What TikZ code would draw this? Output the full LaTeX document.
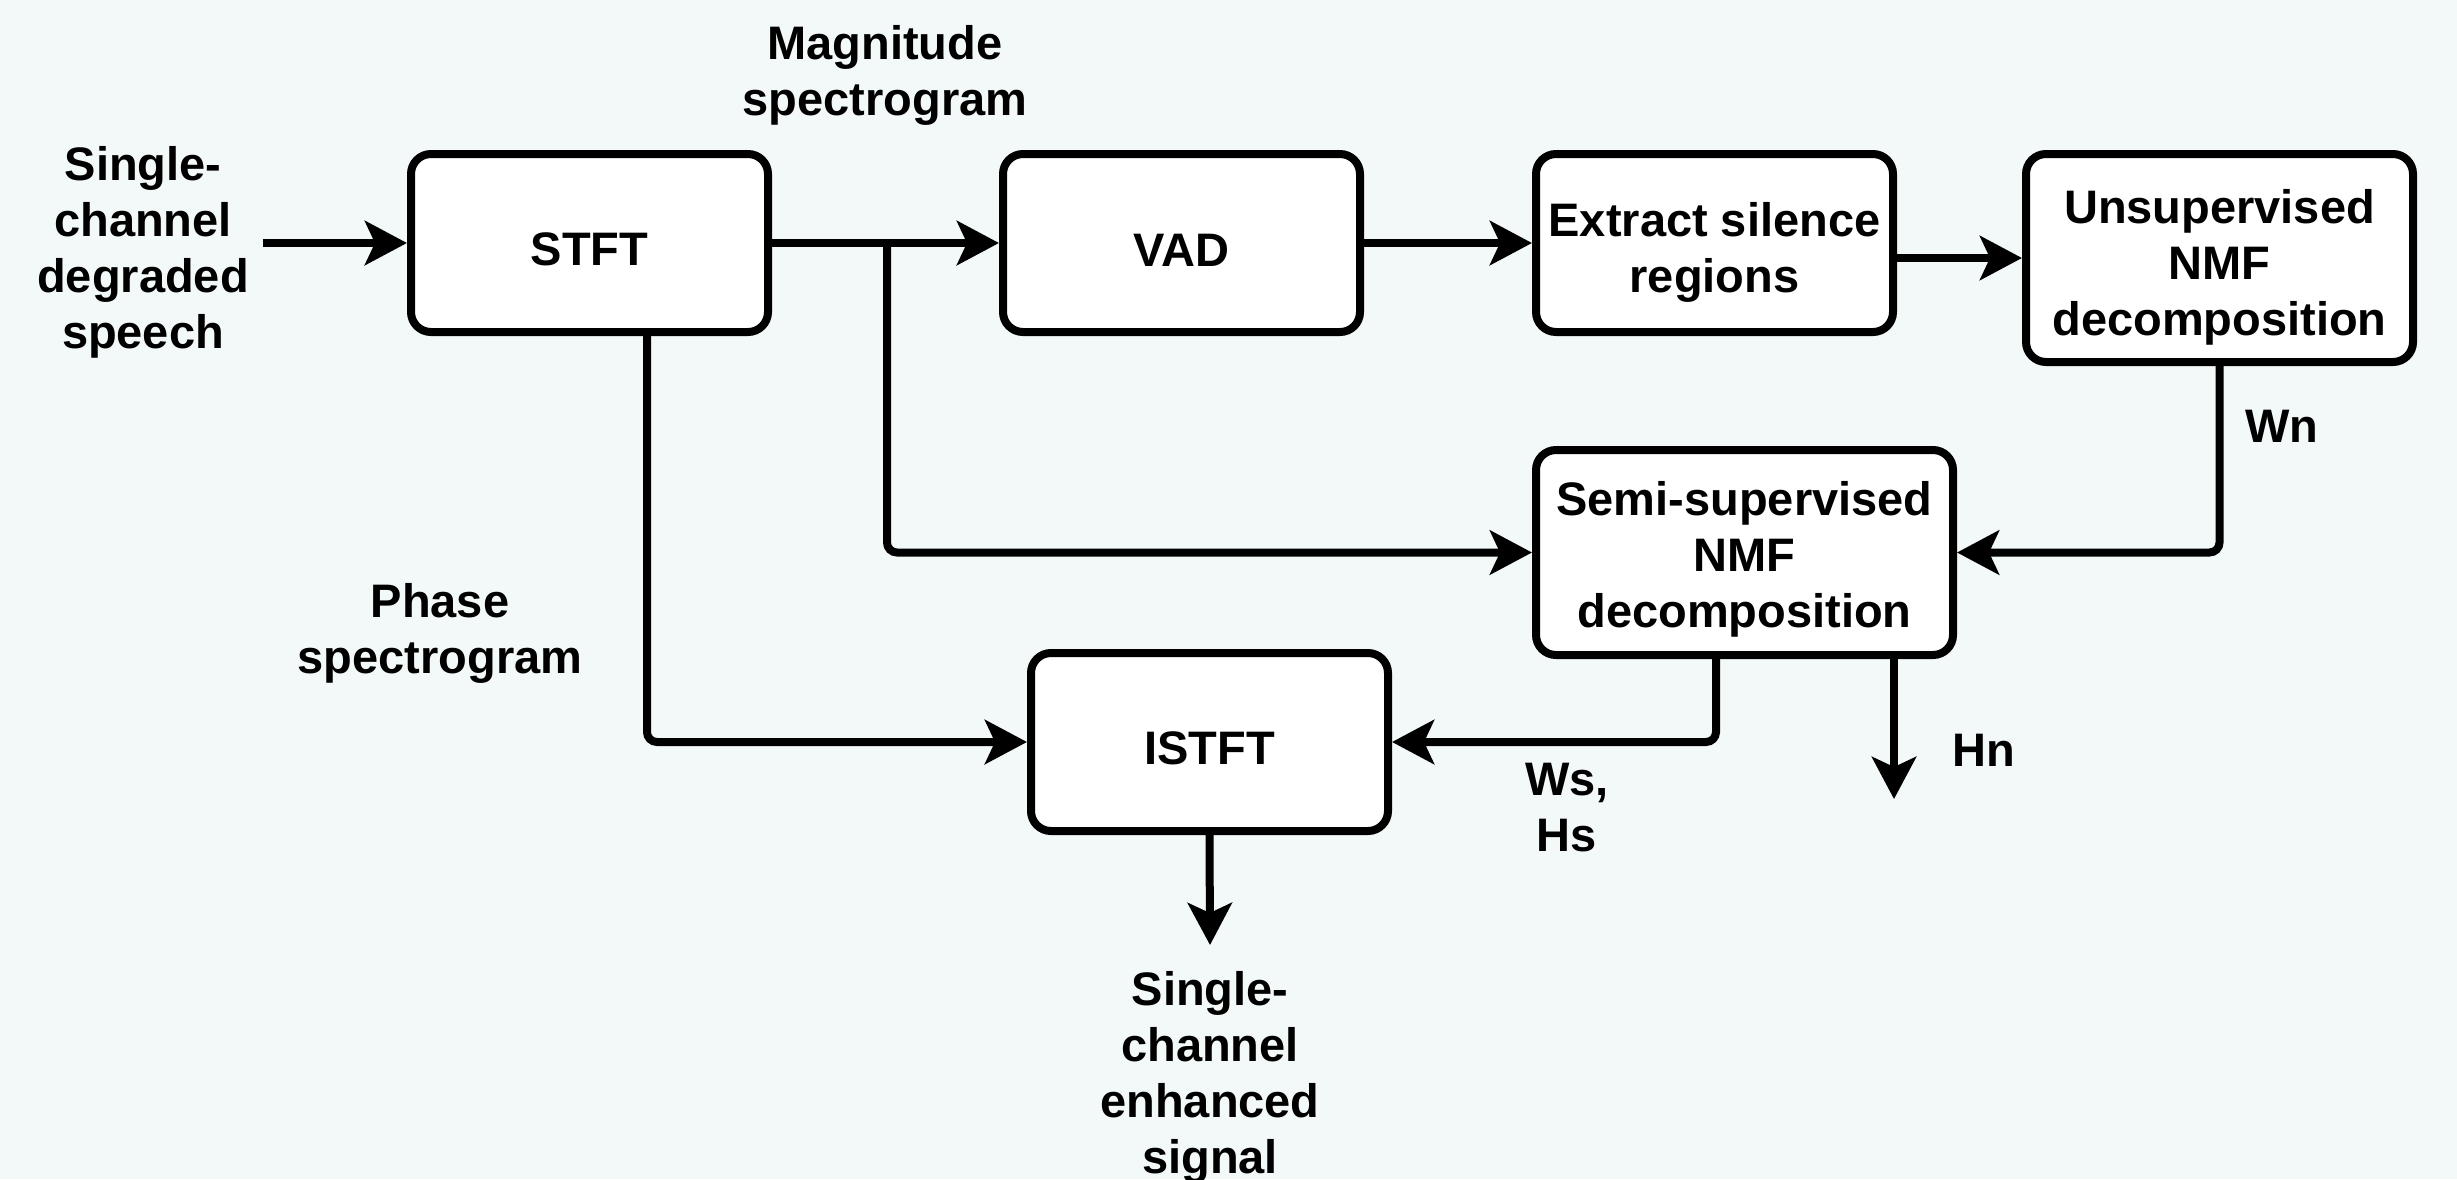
\documentclass[tikz,border=0pt]{standalone}
\usepackage{fontspec}
\setmainfont{Liberation Sans}
\usetikzlibrary{arrows.meta}
\definecolor{bg}{HTML}{F3F9F9}
\newcommand\lbl{\fontsize{23.5pt}{28pt}\selectfont\bfseries}
\newcommand\tpstrut{\rule{0pt}{23pt}}
\newcommand\hstrut[1]{\rule{0pt}{#1}}
\begin{document}
\begin{tikzpicture}[x=0.5pt,y=-0.5pt,
  box/.style={draw=black, line width=4pt, fill=white, rounded corners=10pt, align=center, inner sep=0pt, minimum width=178.5pt, minimum height=89pt, font=\lbl},
  lab/.style={align=center, font=\lbl, inner sep=0pt},
  conn/.style={line width=4pt, -{Stealth[length=21pt,width=22pt,inset=5pt]}, rounded corners=5pt}]
\fill[bg] (0,0) rectangle (2457,1179);
\useasboundingbox (0,0) rectangle (2457,1179);

\node[box] (stft) at (589.5,243) {\tpstrut STFT};
\node[box] (vad) at (1181.5,243) {\tpstrut VAD};
\node[box] (extract) at (1714.5,243) {\hstrut{26pt}Extract silence\\regions};
\node[box, minimum width=193.5pt, minimum height=104pt] (unsup) at (2219.5,258) {\hstrut{26pt}Unsupervised\\NMF\\decomposition};
\node[box, minimum width=208.5pt, minimum height=102.5pt] (semi) at (1744.5,552.5) {\hstrut{24pt}Semi-supervised\\NMF\\decomposition};
\node[box] (istft) at (1209.5,742) {\tpstrut ISTFT};

\node[lab] (inlab) at (143,252) {Single-\\channel\\degraded\\speech};
\node[lab] (maglab) at (885,75) {Magnitude\\spectrogram};
\node[lab] (phlab) at (440,633) {Phase\\spectrogram};
\node[lab] (wnlab) at (2282,426) {Wn};
\node[lab] (wslab) at (1567,808) {Ws,\\Hs};
\node[lab] (hnlab) at (1984,750) {Hn};
\node[lab] (outlab) at (1210,1077) {Single-\\channel\\enhanced\\signal};

\coordinate (inA) at (263,243);
\coordinate (br) at (887,243);
\coordinate (sw) at (1716,0);
\coordinate (hnx) at (1894,799);
\coordinate (px) at (647,0);
\coordinate (oe) at (1210,945);

\draw[conn] (inA) -- (stft.west);
\draw[conn] (stft.east) -- (vad.west);
\draw[conn] (br) |- (semi.west);
\draw[conn] (vad.east) -- (extract.west);
\draw[conn] (extract.east |- unsup.west) -- (unsup.west);
\draw[conn] (unsup.south) |- (semi.east);
\draw[conn] (semi.south -| sw) |- (istft.east);
\draw[conn] (semi.south -| hnx) -- (hnx);
\draw[conn] (stft.south -| px) |- (istft.west);
\draw[conn] (istft.south) -- (oe);
\end{tikzpicture}
\end{document}
